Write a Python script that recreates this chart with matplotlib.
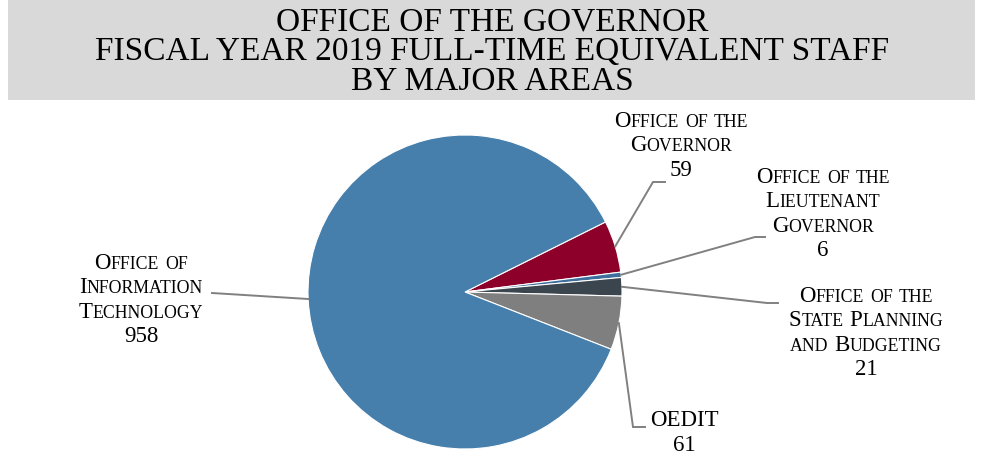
import numpy as np
import matplotlib
matplotlib.use("Agg")
import matplotlib.pyplot as plt
from matplotlib.patches import Rectangle
from matplotlib.offsetbox import TextArea, HPacker, VPacker, AnnotationBbox

# ---- data ----
title_lines = [
    "OFFICE OF THE GOVERNOR",
    "FISCAL YEAR 2019 FULL-TIME EQUIVALENT STAFF",
    "BY MAJOR AREAS",
]
areas = [
    "Office of the\nGovernor",
    "Office of the\nLieutenant\nGovernor",
    "Office of the\nState Planning\nand Budgeting",
    "OEDIT",
    "Office of\nInformation\nTechnology",
]
fte = [59, 6, 21, 61, 958]
colors = ["#8C0029", "#3E6F9C", "#3B454E", "#7F7F7F", "#467EAC"]

# ---- layout (pixel space, y measured from the top) ----
W, H = 982, 457
CENTER = (465, 292)
RADIUS = 157
START_ANGLE = 26.5
label_centers = [(681, 146), (823, 214), (866, 333), (684, 433), (141, 300)]
elbows = [[(653, 182), (665, 182)],
          [(755, 237), (765, 237)],
          [(767, 303), (778, 303)],
          [(633, 427), (645, 427)],
          [(212, 293)]]

FONT = "Liberation Serif"
BIG, SMALL = 16.5, 12.8
LINE_COLOR = "#808080"


def Y(y):
    return H - y


def small_caps_line(text):
    """Build one line of small-caps text from runs of large and small glyphs."""
    words = []
    for word in text.split(" "):
        runs, cur, cur_big = [], "", None
        for ch in word:
            big = ch.isupper() or ch.isdigit()
            if cur_big is None or big == cur_big:
                cur += ch
            else:
                runs.append((cur, cur_big))
                cur = ch
            cur_big = big
        runs.append((cur, cur_big))
        parts = [TextArea(s.upper(), textprops=dict(fontsize=BIG if b else SMALL,
                                                     family=FONT, color="black"))
                 for s, b in runs]
        words.append(HPacker(children=parts, align="baseline", pad=0, sep=0))
    return HPacker(children=words, align="baseline", pad=0, sep=4.2)


fig = plt.figure(figsize=(W / 100, H / 100), dpi=100)
ax = fig.add_axes([0, 0, 1, 1])

# title band
ax.add_patch(Rectangle((8, Y(100)), 967, 100, facecolor="#D9D9D9",
                       edgecolor="none", zorder=0))
for i, line in enumerate(title_lines):
    ax.text(492, Y(22 + 30 * i), line, ha="center", va="center",
            fontsize=24, family=FONT, color="black")

# pie
total = float(sum(fte))
ax.pie(fte, colors=colors, startangle=START_ANGLE, counterclock=False,
       center=(CENTER[0], Y(CENTER[1])), radius=RADIUS,
       wedgeprops=dict(edgecolor="white", linewidth=0.8))

# leader lines and labels
cum = 0.0
for name, val, (lx, ly), pts in zip(areas, fte, label_centers, elbows):
    mid = np.deg2rad(START_ANGLE - (cum + val / 2.0) / total * 360.0)
    cum += val
    x0 = CENTER[0] + RADIUS * np.cos(mid)
    y0 = Y(CENTER[1]) + RADIUS * np.sin(mid)
    xs = [x0] + [p[0] for p in pts]
    ys = [y0] + [Y(p[1]) for p in pts]
    ax.plot(xs, ys, color=LINE_COLOR, lw=1.4, solid_joinstyle="miter", zorder=3)

    lines = name.split("\n") + [str(val)]
    box = VPacker(children=[small_caps_line(l) for l in lines],
                  align="center", pad=0, sep=2.4)
    ab = AnnotationBbox(box, (lx, Y(ly)), xycoords="data", frameon=False,
                        pad=0, box_alignment=(0.5, 0.5))
    ax.add_artist(ab)

ax.set_xlim(0, W)
ax.set_ylim(0, H)
ax.set_aspect("auto")
ax.set_axis_off()

fig.savefig("out.png", dpi=100, facecolor="white")
